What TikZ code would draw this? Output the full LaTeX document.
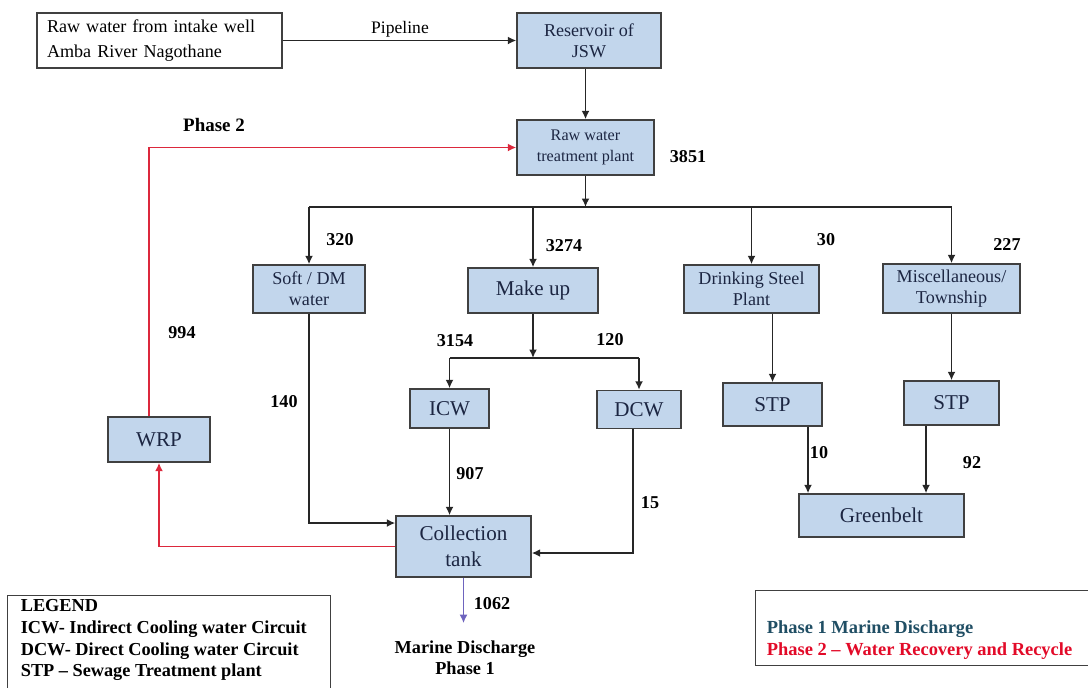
\documentclass[tikz,border=0pt]{standalone}
\usepackage{fontspec}
\setmainfont{Liberation Serif}
\usepackage{tikz}
\usetikzlibrary{arrows.meta, positioning}
\definecolor{boxfill}{RGB}{194,214,236}
\definecolor{boxtext}{RGB}{28,38,66}
\definecolor{phaseone}{RGB}{32,78,100}
\definecolor{phasetwo}{RGB}{226,10,40}
\definecolor{recycle}{RGB}{220,40,60}
\definecolor{marine}{RGB}{110,100,190}
\tikzstyle{block} = [rectangle, draw=black!75, line width=0.8pt, fill=boxfill, text=boxtext, align=center, inner sep=1pt, font=\fontsize{10.3}{12}\selectfont]
\tikzstyle{bigblock} = [block, font=\fontsize{12}{14.5}\selectfont]
\tikzstyle{flow} = [font=\bfseries\fontsize{10.3}{12}\selectfont]
\tikzstyle{arrow} = [-{Latex[length=1.7mm,width=1.6mm]}, line width=1pt, black!85]
\tikzstyle{line} = [-, line width=1pt, black!85]
\tikzstyle{redarrow} = [arrow, recycle]
\tikzstyle{bluearrow} = [arrow, marine, line width=0.7pt]

\begin{document}
\begin{tikzpicture}[x=0.02cm, y=-0.02cm]
    \useasboundingbox (0,0) rectangle (1088,687);

    \node (raw) [rectangle, draw=black!75, line width=0.8pt, minimum width=4.9cm, minimum height=1.1cm, text width=4.5cm, inner xsep=0.2cm, align=left, font=\fontsize{10.3}{14}\selectfont] at (159.5,40.5) {Raw water from intake well\\Amba River Nagothane};
    \node (res) [block, minimum width=2.88cm, minimum height=1.1cm] at (589,40.5) {Reservoir of\\JSW};
    \node (rwtp) [block, minimum width=2.74cm, minimum height=1.1cm, font=\fontsize{9.2}{11.5}\selectfont] at (585.5,147.5) {Raw water\\treatment plant};
    \node (soft) [block, minimum width=2.24cm, minimum height=0.96cm] at (309,289) {Soft / DM\\water};
    \node (makeup) [bigblock, minimum width=2.6cm, minimum height=0.9cm] at (533,290.5) {Make up};
    \node (drink) [block, minimum width=2.7cm, minimum height=0.96cm] at (751.5,289) {Drinking Steel\\Plant};
    \node (misc) [block, minimum width=2.74cm, minimum height=0.98cm] at (951.5,288.5) {Miscellaneous/\\Township};
    \node (icw) [bigblock, minimum width=1.58cm, minimum height=0.78cm] at (449.5,408.5) {ICW};
    \node (dcw) [bigblock, minimum width=1.68cm, minimum height=0.76cm] at (639,409.5) {DCW};
    \node (stpa) [bigblock, minimum width=1.98cm, minimum height=0.86cm] at (772.5,404.5) {STP};
    \node (stpb) [bigblock, minimum width=1.9cm, minimum height=0.88cm] at (951.5,403) {STP};
    \node (green) [bigblock, minimum width=3.3cm, minimum height=0.86cm] at (881.5,515.5) {Greenbelt};
    \node (wrp) [bigblock, minimum width=2.04cm, minimum height=0.9cm] at (159,439.5) {WRP};
    \node (coll) [bigblock, minimum width=2.7cm, minimum height=1.22cm] at (463.5,546.5) {Collection\\tank};
    \node (marine) [font=\bfseries\fontsize{10.4}{12.2}\selectfont, align=center] at (465,658) {Marine Discharge\\Phase 1};
    \coordinate (outlet) at (462,623);

    \node (pipe) [font=\fontsize{10}{11}\selectfont] at (400,29) {Pipeline};
    \node (q3851) [flow] at (688,157) {3851};
    \node (q320) [flow] at (340,240) {320};
    \node (q3274) [flow] at (564,246) {3274};
    \node (q30) [flow] at (826,240) {30};
    \node (q227) [flow] at (1007,245) {227};
    \node (q3154) [flow] at (455,341) {3154};
    \node (q120) [flow] at (610,340) {120};
    \node (q994) [flow] at (182,333) {994};
    \node (q140) [flow] at (284,402) {140};
    \node (q907) [flow] at (470,474) {907};
    \node (q15) [flow] at (650,503) {15};
    \node (q10) [flow] at (819,453) {10};
    \node (q92) [flow] at (972,463) {92};
    \node (q1062) [flow] at (492,604) {1062};
    \node (ph2) [flow, font=\bfseries\fontsize{10.8}{12}\selectfont] at (214,125) {Phase 2};

    % legend boxes
    \node (legendbox) [draw=black!75, line width=0.8pt, anchor=north west, minimum width=6.46cm, minimum height=2.2cm] at (7,595) {};
    \node (legend) [anchor=north west, align=left, inner sep=2pt, font=\bfseries\fontsize{10.4}{12.3}\selectfont] at ([xshift=0.2cm, yshift=-0.02cm]legendbox.north west) {LEGEND\\ICW- Indirect Cooling water Circuit\\DCW- Direct Cooling water Circuit\\STP -- Sewage Treatment plant};
    \node (phasebox) [draw=black!75, line width=0.8pt, anchor=north west, minimum width=6.7cm, minimum height=1.5cm] at (755,590) {};
    \node (phasetext) [anchor=south west, align=left, inner sep=2pt, text=phaseone, font=\bfseries\fontsize{10.5}{12.3}\selectfont] at ([xshift=0.16cm, yshift=0.06cm]phasebox.south west) {Phase 1 Marine Discharge\\\textcolor{phasetwo}{Phase 2 -- Water Recovery and Recycle}};

    \draw [arrow] (raw) -- (res);
    \draw [arrow] (res.south -| rwtp) -- (rwtp);

    \coordinate (bus) at (585,207);
    \draw [arrow] (rwtp) -- (rwtp |- bus);
    \draw [line] (soft |- bus) -- (misc |- bus);
    \draw [arrow] (soft |- bus) -- (soft);
    \draw [arrow] (makeup |- bus) -- (makeup);
    \draw [arrow] (drink |- bus) -- (drink);
    \draw [arrow] (misc |- bus) -- (misc);

    \coordinate (fork) at (533,358);
    \draw [arrow] (makeup) -- (fork);
    \draw [line] (icw |- fork) -- (dcw |- fork);
    \draw [arrow] (icw |- fork) -- (icw);
    \draw [arrow] (dcw |- fork) -- (dcw);

    \draw [arrow] (drink.south -| stpa) -- (stpa);
    \draw [arrow] (misc) -- (stpb);
    \draw [arrow] ([xshift=0.71cm]stpa.south) -- ([xshift=0.71cm]stpa.south |- green.north);
    \draw [arrow] ([xshift=-0.51cm]stpb.south) -- ([xshift=-0.51cm]stpb.south |- green.north);

    \draw [arrow] (soft) |- ([yshift=0.47cm]coll.west);
    \draw [arrow] (icw) -- (icw |- coll.north);
    \draw [arrow] ([xshift=-0.12cm]dcw.south) |- ([yshift=-0.13cm]coll.east);

    \draw [redarrow] (coll) -| (wrp);
    \draw [redarrow] ([xshift=-0.2cm]wrp.north) |- (rwtp);
    \draw [bluearrow] (coll.south) -- (coll.south |- outlet);

\end{tikzpicture}
\end{document}
